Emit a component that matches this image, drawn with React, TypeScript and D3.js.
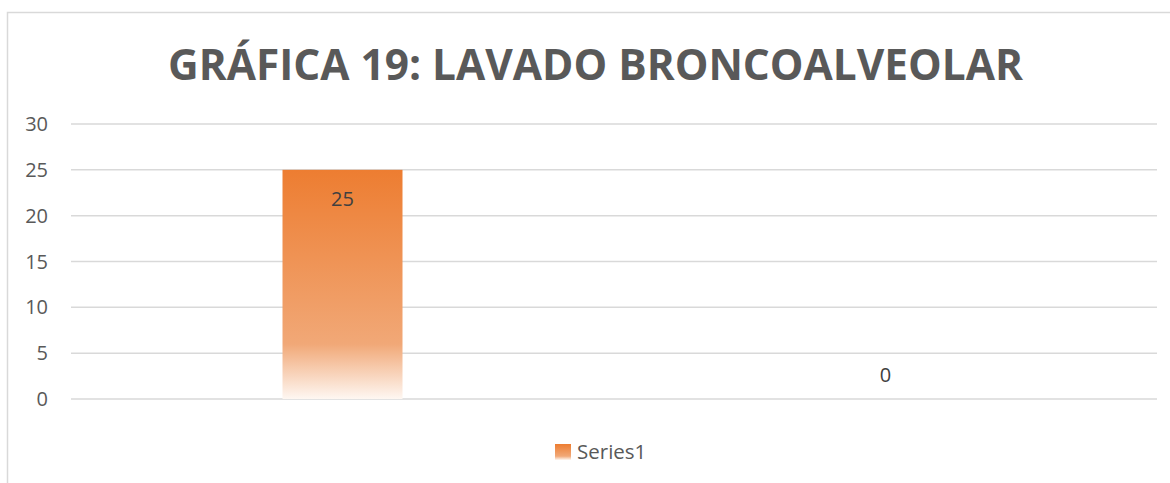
import React from "react";
import * as d3 from "d3";

const title = "GRÁFICA 19: LAVADO BRONCOALVEOLAR";
const categories = ["1", "2"];
const values = [25, 0];
const yTicks = [0, 5, 10, 15, 20, 25, 30];
const seriesName = "Series1";

export default function App() {
  const W = 1170, H = 483;
  const left = 71, right = 1157, top = 124, bottom = 399;
  const x = d3.scaleBand<string>().domain(categories).range([left, right]).paddingInner(0).paddingOuter(0);
  const y = d3.scaleLinear().domain([0, 30]).range([bottom, top]);
  const barW = x.bandwidth() * 0.221;
  const font = "'Open Sans', sans-serif";
  return (
    <svg width={W} height={H} style={{ position: "absolute", left: 0, top: 0, background: "#fff" }}>
      <defs>
        <linearGradient id="barGrad" x1="0" y1="0" x2="0" y2="1">
          <stop offset="0" stopColor="#ED7D31" />
          <stop offset="0.76" stopColor="#F1A877" />
          <stop offset="1" stopColor="#FEF7F2" />
        </linearGradient>
      </defs>
      <rect x={7.5} y={12.5} width={1180} height={500} fill="#fff" stroke="#D9D9D9" strokeWidth={1.5} />
      <text x={595.5} y={80} textAnchor="middle" fontFamily={font} fontWeight="bold" fontSize={42.4} fill="#595959">{title}</text>
      {yTicks.map((t) => (
        <g key={t}>
          <line x1={left} x2={right} y1={y(t)} y2={y(t)} stroke="#D9D9D9" strokeWidth={1.5} />
          <text x={48} y={y(t)} dy="0.35em" textAnchor="end" fontFamily={font} fontSize={20} fill="#595959">{t}</text>
        </g>
      ))}
      {categories.map((c, i) => {
        const cx = (x(c) as number) + x.bandwidth() / 2;
        const v = values[i];
        return (
          <g key={c}>
            {v > 0 && <rect x={cx - barW / 2} y={y(v)} width={barW} height={y(0) - y(v)} fill="url(#barGrad)" />}
            <text x={cx} y={v > 0 ? y(v) + 29 : y(0) - 24} dy="0.35em" textAnchor="middle" fontFamily={font} fontSize={20} fill="#404040">{v}</text>
          </g>
        );
      })}
      <rect x={555} y={444} width={16} height={16} fill="url(#barGrad)" />
      <text x={577} y={452} dy="0.35em" fontFamily={font} fontSize={20.5} fill="#595959">{seriesName}</text>
    </svg>
  );
}
